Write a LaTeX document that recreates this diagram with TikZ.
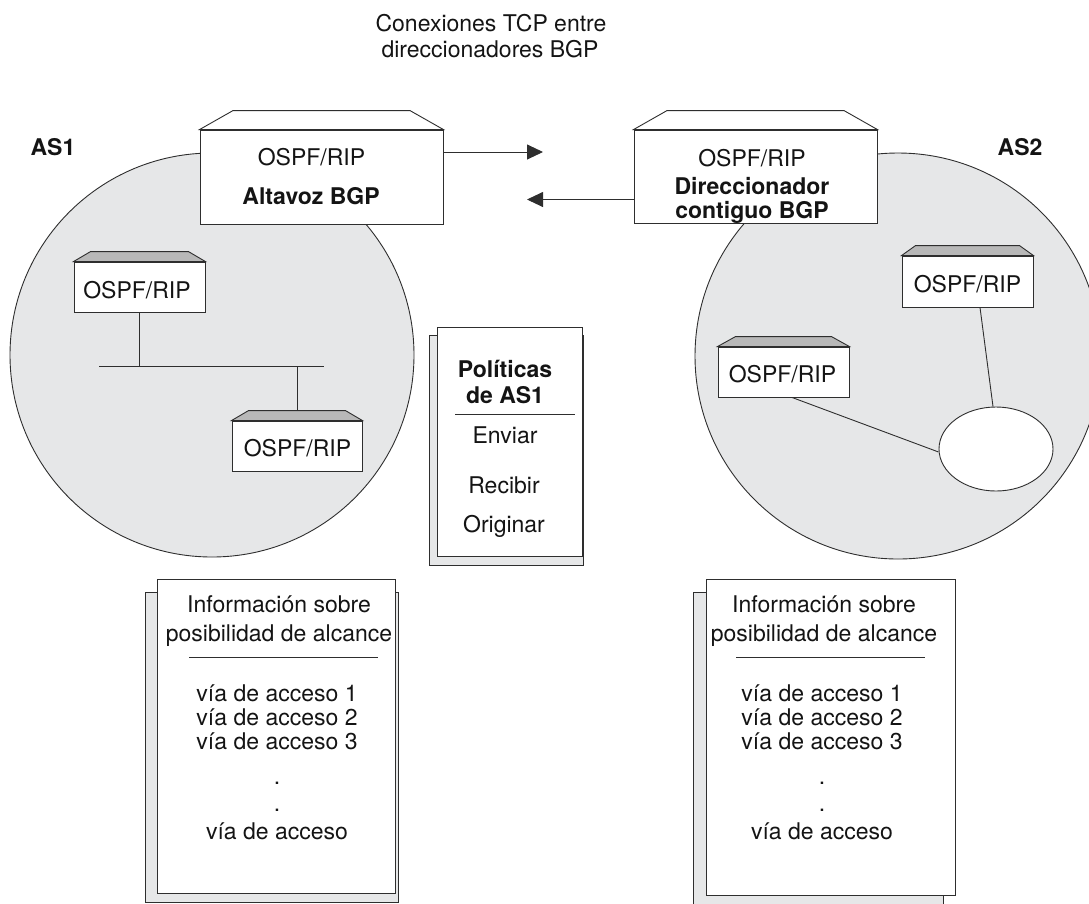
\documentclass[tikz,border=0pt]{standalone}
\usepackage{fontspec}
\setmainfont{TeX Gyre Heros}
\usetikzlibrary{arrows.meta,shapes.geometric}
\definecolor{asgray}{HTML}{E6E7E8}
\definecolor{topgray}{HTML}{B8B8B8}
\definecolor{ink}{HTML}{2E2E2E}
\newcommand\rtrtop[4]{%
  \draw[line, fill=#4] (#1.north west) -- ([shift={(#2,-#3)}]#1.north west)
    -- ([shift={(-#2,-#3)}]#1.north east) -- (#1.north east) -- cycle;}
\begin{document}
\begin{tikzpicture}[x=1pt,y=-1pt,
  line/.style={draw=ink, line width=0.9pt},
  txt/.style={anchor=base, inner sep=0pt, font=\fontsize{23}{27}\selectfont, text=black!92},
  btxt/.style={anchor=base, inner sep=0pt, font=\fontsize{23}{27}\selectfont\bfseries, text=black!92},
  rbox/.style={rectangle, draw=ink, line width=0.9pt, fill=white, inner sep=0pt},
  sheetback/.style={rbox, fill=asgray},
  asdisk/.style={circle, draw=ink, line width=0.9pt, fill=asgray, inner sep=0pt},
  arr/.style={line, -{Triangle[length=16pt,width=15pt]}}
]
\path[use as bounding box] (0,0) rectangle (1089,903);
\clip (0,0) rectangle (1089,903);

% title
\node[txt] (t1) at (491,31) {Conexiones TCP entre};
\node[txt] (t2) at (490,57) {direccionadores BGP};

% AS disks
\node[asdisk, minimum size=404pt] (as1) at (212,355) {};
\node[asdisk, minimum size=406pt] (as2) at (898,356) {};
\node[btxt] (as1l) at (53,155) {AS1};
\node[btxt] (as2l) at (1020,155) {AS2};

% AS1 internal network
\coordinate (busL) at (99,366);
\coordinate (busR) at (324,366);
\node[rbox, minimum width=131pt, minimum height=50pt] (s1) at (139.5,287) {};
\node[rbox, minimum width=130pt, minimum height=50pt] (s2) at (297,446) {};
\draw[line] (busL) -- (busR);
\draw[line] (s1.south) -- (s1.south |- busL);
\draw[line] (s2.north |- busL) -- ([yshift=10pt]s2.north);
\rtrtop{s1}{17}{10}{topgray}
\rtrtop{s2}{17}{10}{topgray}
\node[txt] (s1t) at (137,298) {OSPF/RIP};
\node[txt] (s2t) at (297.5,456) {OSPF/RIP};

% AS2 internal network
\node[rbox, minimum width=131pt, minimum height=51pt] (sA) at (967.5,281.5) {};
\node[rbox, minimum width=131pt, minimum height=50pt] (sB) at (783.5,372) {};
\node[ellipse, draw=ink, line width=0.9pt, fill=white, inner sep=0pt,
      minimum width=114pt, minimum height=84pt] (el) at (996,449) {};
\draw[line] ([xshift=12.5pt]sA.south) -- ([xshift=-3pt]el.north);
\draw[line] ([xshift=8.5pt]sB.south) -- ([yshift=-3pt]el.west);
\rtrtop{sA}{14}{10}{topgray}
\rtrtop{sB}{18}{10}{topgray}
\node[txt] (sAt) at (967.5,292) {OSPF/RIP};
\node[txt] (sBt) at (782.5,382) {OSPF/RIP};

% BGP routers
\node[rbox, minimum width=243pt, minimum height=94pt] (r1) at (321.5,177) {};
\node[rbox, minimum width=243pt, minimum height=93pt] (r2) at (755.5,176.5) {};
\rtrtop{r1}{33.5}{19}{white}
\rtrtop{r2}{33.5}{19}{white}
\node[txt] (r1a) at (311.5,165) {OSPF/RIP};
\node[btxt] (r1b) at (311,204) {Altavoz BGP};
\node[txt] (r2a) at (752,166) {OSPF/RIP};
\node[btxt] (r2b) at (752,194) {Direccionador};
\node[btxt] (r2c) at (752,218) {contiguo BGP};

\coordinate (tipR) at (543,152);
\coordinate (tipL) at (527,199.5);
\draw[arr] (r1.east |- tipR) -- (tipR);
\draw[arr] (r2.west |- tipL) -- (tipL);

% policies sheet
\node[sheetback, minimum width=154pt, minimum height=230pt] (pb) at (506,450) {};
\node[rbox, minimum width=145pt, minimum height=229pt] (pf) at (509.5,441.5) {};
\node[btxt] (p1) at (505,377) {Políticas};
\node[btxt] (p2) at (505,403) {de AS1};
\draw[line] (455,414) -- (575,414);
\node[txt] (p3) at (505,443) {Enviar};
\node[txt] (p4) at (504,493) {Recibir};
\node[txt] (p5) at (504,532) {Originar};

% reachability sheets
\node[sheetback, minimum width=253pt, minimum height=310pt] (lb) at (271.5,747) {};
\node[rbox, minimum width=238pt, minimum height=314pt] (lf) at (276,736) {};
\node[sheetback, minimum width=250pt, minimum height=313pt] (rb) at (818,748.5) {};
\node[rbox, minimum width=249pt, minimum height=316pt] (rf) at (830.5,737) {};

\foreach \cx/\lx/\rx/\nm in {277/189/378/L, 822/736/925/R}{
  \node[txt] (i1\nm) at (\cx+2,612.5) {Información sobre};
  \node[txt] (i2\nm) at (\cx+2,641) {posibilidad de alcance};
  \draw[line] (\lx,657) -- (\rx,657);
  \node[txt] (v1\nm) at (\cx,701) {vía de acceso 1};
  \node[txt] (v2\nm) at (\cx,725) {vía de acceso 2};
  \node[txt] (v3\nm) at (\cx,749) {vía de acceso 3};
  \node[txt] (d1\nm) at (\cx,784) {.};
  \node[txt] (d2\nm) at (\cx,811) {.};
  \node[txt] (v4\nm) at (\cx,839) {vía de acceso};
}
\end{tikzpicture}
\end{document}
